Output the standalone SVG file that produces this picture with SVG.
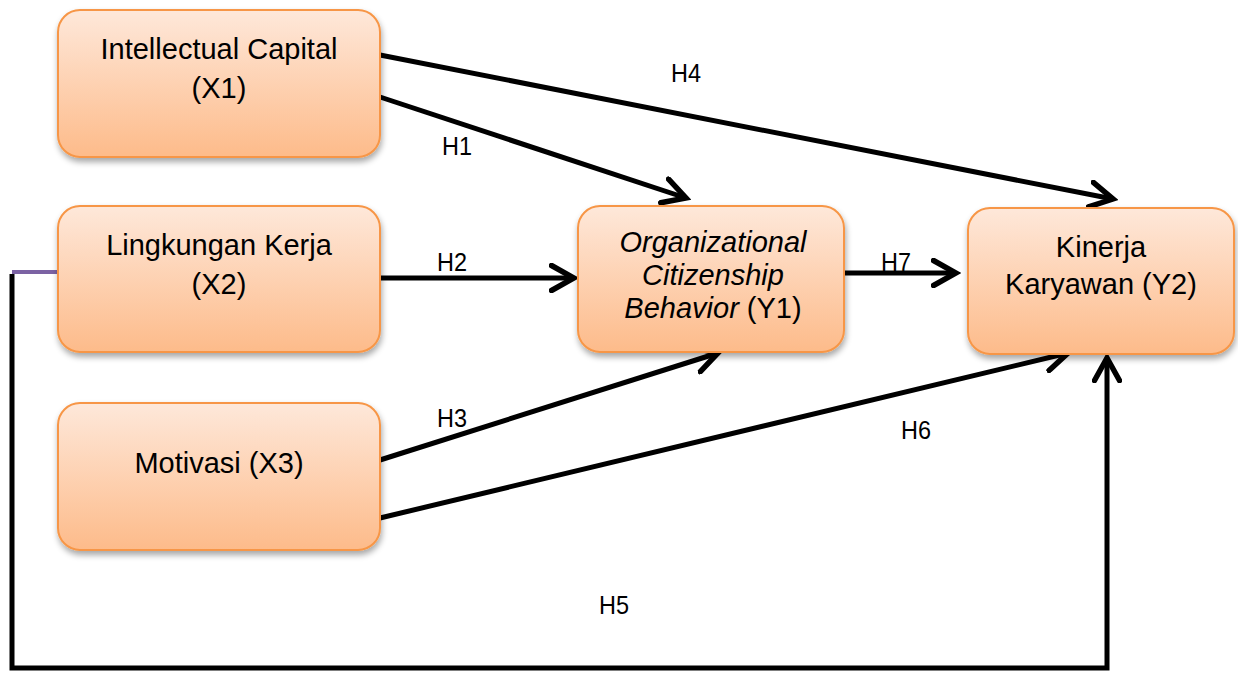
<svg xmlns="http://www.w3.org/2000/svg" width="1238" height="673" viewBox="0 0 1238 673">
<defs>
<linearGradient id="g" x1="0" y1="0" x2="0" y2="1">
<stop offset="0" stop-color="#FEE8DA"/>
<stop offset="1" stop-color="#FDBB8A"/>
</linearGradient>
<filter id="sh" x="-10%" y="-10%" width="125%" height="130%">
<feGaussianBlur in="SourceAlpha" stdDeviation="3"/>
<feOffset dx="1" dy="4"/>
<feComponentTransfer><feFuncA type="linear" slope="0.35"/></feComponentTransfer>
<feMerge><feMergeNode/><feMergeNode in="SourceGraphic"/></feMerge>
</filter>
<marker id="ah" viewBox="0 0 12 12" refX="10" refY="6" markerWidth="6" markerHeight="6" markerUnits="strokeWidth" orient="auto">
<path d="M1,1 L10,6 L1,11" fill="none" stroke="#000" stroke-width="2.2" stroke-linecap="round" stroke-linejoin="miter"/>
</marker>
</defs>
<style>
.box{fill:url(#g);stroke:#F79646;stroke-width:2;filter:url(#sh)}
.t{font-family:"Liberation Sans",Arial,sans-serif;font-size:29px;fill:#000;text-anchor:middle}
.l{font-family:"Liberation Sans",Arial,sans-serif;font-size:26px;fill:#000;text-anchor:middle}
.c{fill:none;stroke:#000;stroke-width:5}
.a{marker-end:url(#ah)}
</style>
<rect width="1238" height="673" fill="#fff"/>
<g id="connectors">
<line class="c a" x1="380" y1="55" x2="1113" y2="199"/>
<line class="c a" x1="380" y1="97" x2="686" y2="198"/>
<line class="c a" x1="380" y1="278" x2="574" y2="278"/>
<line class="c a" x1="844" y1="273" x2="956" y2="273"/>
<line class="c a" x1="380" y1="460" x2="718" y2="353"/>
<line class="c a" x1="380" y1="518" x2="1068" y2="353"/>
<line x1="12" y1="272" x2="58" y2="272" stroke="#7B62A3" stroke-width="4"/>
<polyline class="c a" points="12,274 12,668 1107,668 1107,358" stroke-linejoin="miter"/>
<text class="l" x="686" y="82" textLength="30" lengthAdjust="spacingAndGlyphs">H4</text>
<text class="l" x="457" y="155" textLength="30" lengthAdjust="spacingAndGlyphs">H1</text>
<text class="l" x="452" y="271" textLength="30" lengthAdjust="spacingAndGlyphs">H2</text>
<text class="l" x="896" y="271" textLength="30" lengthAdjust="spacingAndGlyphs">H7</text>
<text class="l" x="452" y="427" textLength="30" lengthAdjust="spacingAndGlyphs">H3</text>
<text class="l" x="916" y="439" textLength="30" lengthAdjust="spacingAndGlyphs">H6</text>
<text class="l" x="614" y="614" textLength="30" lengthAdjust="spacingAndGlyphs">H5</text>
</g>
<g id="x1">
<rect class="box" x="58" y="10" width="322" height="147" rx="22"/>
<text class="t" x="219" y="59">Intellectual Capital</text>
<text class="t" x="219" y="98">(X1)</text>
</g>
<g id="x2">
<rect class="box" x="58" y="206" width="322" height="146" rx="22"/>
<text class="t" x="219" y="255">Lingkungan Kerja</text>
<text class="t" x="219" y="294">(X2)</text>
</g>
<g id="x3">
<rect class="box" x="58" y="403" width="322" height="147" rx="22"/>
<text class="t" x="219" y="473">Motivasi (X3)</text>
</g>
<g id="y1">
<rect class="box" x="578" y="206" width="266" height="146" rx="22"/>
<text class="t" x="713" y="252"><tspan font-style="italic">Organizational</tspan></text>
<text class="t" x="713" y="285"><tspan font-style="italic">Citizenship</tspan></text>
<text class="t" x="713" y="318"><tspan font-style="italic">Behavior</tspan> (Y1)</text>
</g>
<g id="y2">
<rect class="box" x="968" y="208" width="266" height="146" rx="22"/>
<text class="t" x="1101" y="257">Kinerja</text>
<text class="t" x="1101" y="294">Karyawan (Y2)</text>
</g>
</svg>
